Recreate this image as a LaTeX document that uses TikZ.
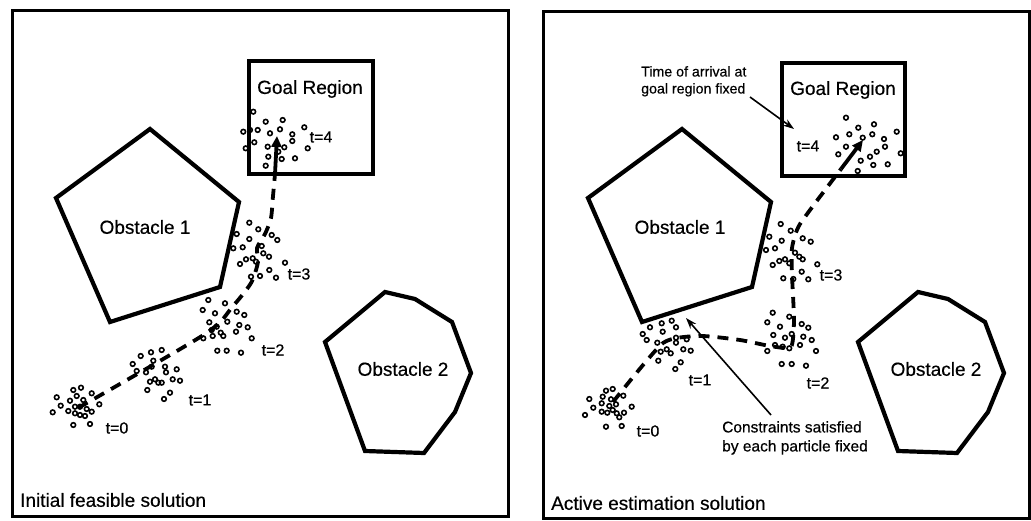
\documentclass[tikz,border=0pt]{standalone}
\usepackage{fontspec}
\setmainfont{Liberation Sans}[FakeBold=0.45]
\usetikzlibrary{arrows.meta}
\newcommand\particles[1]{\foreach \p in {#1} \draw[particle] \p circle[radius=2.3pt];}
\begin{document}
\begin{tikzpicture}[x=1pt,y=-1pt,
  frame/.style={line width=3pt},
  obstacle/.style={line width=4.2pt, line join=miter},
  route/.style={line width=3.8pt, dash pattern=on 11pt off 8pt},
  routetip/.style={line width=3.8pt, -{Triangle[length=11pt,width=10pt]}},
  particle/.style={line width=1.6pt},
  pointer/.style={line width=1.6pt, -{Stealth[length=11pt,width=7.5pt]}},
  bigtext/.style={font=\fontsize{19}{22}\selectfont, inner sep=0pt},
  tlabel/.style={font=\fontsize{16}{18}\selectfont, inner sep=0pt},
  note/.style={font=\fontsize{15.5}{19}\selectfont, align=left, inner sep=0pt},
  smallnote/.style={font=\fontsize{14.2}{17}\selectfont, align=left, inner sep=0pt},
]
\useasboundingbox (0,0) rectangle (1031,521);

% ---------------- left panel: initial feasible solution ----------------
\draw[frame] (12,11) rectangle (508,516);
\draw[obstacle] (249,61) rectangle (373,174);
\node[bigtext] (goalL) at (310,89) {Goal Region};
\draw[obstacle] (150,129) -- (239,202) -- (220,287) -- (110,322) -- (56,198) -- cycle;
\node[bigtext] (obsAL) at (145,227) {Obstacle 1};
\draw[obstacle] (325,342) -- (385,292) -- (415,299) -- (452,322) -- (471,373)
  -- (455,412) -- (424,453) -- (365,451) -- cycle;
\node[bigtext] (obsBL) at (403,369) {Obstacle 2};
\node[bigtext, anchor=west] (capL) at (20,500) {Initial feasible solution};

% particle clouds
\particles{(56.7,397.3),(73.3,390),(81,387.7),(91.7,393.3),(60.7,405.7),(70,400.7),(76.7,396),(83.3,400),(99.3,404.3),(52.7,412.3),(68.3,411),(75,406.7),(80,406.7),(86.7,409),(91.7,411.7),(75,413.3),(80,415),(85,416),(73.3,425),(90,424)}
\particles{(140.7,356),(151,352.3),(161.7,350),(132.7,364),(136.7,371),(153.3,360.7),(151.7,366.7),(146,372.3),(165,366.7),(166,372.3),(176.7,369.3),(150,381.7),(155,379.3),(158.3,382.7),(161.7,382.7),(172.7,379.3),(180,380.7),(147.3,390),(170,392.7),(164,399)}
\particles{(208.3,300),(225,303.3),(202.7,310),(215,313.3),(236.7,311.7),(244.3,315),(209.3,322.3),(216.7,326.7),(227.3,321.7),(239.3,325),(247.7,327.3),(211.7,330),(220.7,332.7),(236,331.7),(203.3,338.3),(212.7,336),(223.3,336),(251.7,338.3),(217.3,350.7),(226.7,350.7),(241,352.7)}
\particles{(249.3,222.7),(258.3,229.3),(236.7,234),(249.3,239),(271.7,235),(277.3,240),(233.3,248.3),(242.7,247.3),(261.7,246),(263.3,253.3),(269,256.7),(246,259.3),(252.7,258.3),(240,264),(256,261.7),(285,262.7),(269.3,270),(251,276.7),(260,276),(276,277.7)}
\particles{(253.3,111.7),(265.7,121.7),(282.7,120),(243.3,131.7),(250,130),(257.7,130),(270,133.3),(280,129.3),(304.3,127.3),(292.3,134.3),(292.3,141),(254.3,142.3),(245.7,148.3),(267.7,146.7),(284.3,147.3),(278.3,151.7),(307.7,148.3),(268.3,156.7),(281.7,159),(295,158.3),(265.7,165.7)}

% dashed route
\coordinate (r0L) at (78,408);
\coordinate (r4L) at (275,174);
\coordinate (tipL) at (277,136);
\draw[route] plot[smooth, tension=0.45] coordinates {(r0L) (205,334) (233,306) (251,283) (258,262) (257,248) (265,234) (271,218) (273,196) (r4L)};
\draw[routetip] (r4L) -- (tipL);

\node[tlabel] (t0L) at (117,428) {t=0};
\node[tlabel] (t1L) at (200,400) {t=1};
\node[tlabel] (t2L) at (273,350) {t=2};
\node[tlabel] (t3L) at (299,274) {t=3};
\node[tlabel] (t4L) at (321,137) {t=4};

% ---------------- right panel: active estimation solution ----------------
\draw[frame] (543,12) rectangle (1029,518);
\draw[obstacle] (782,63) rectangle (905,176);
\node[bigtext] (goalR) at (843,90) {Goal Region};
\draw[obstacle] (682,129) -- (771,202) -- (752,287) -- (642,322) -- (588,198) -- cycle;
\node[bigtext] (obsAR) at (680,227) {Obstacle 1};
\draw[obstacle] (858,342) -- (918,292) -- (948,299) -- (985,322) -- (1004,373)
  -- (988,412) -- (957,453) -- (898,451) -- cycle;
\node[bigtext] (obsBR) at (936,369) {Obstacle 2};
\node[bigtext, anchor=west] (capR) at (551,503) {Active estimation solution};

\particles{(606,390.7),(612.7,389),(589.3,399),(602.7,396.7),(611,399.3),(623.3,395.7),(593.3,407.7),(601.7,403.3),(609.3,406),(616,404.3),(631.7,406.7),(585,415),(601.7,411.7),(607.3,412.7),(612.7,410),(616.7,413.3),(624,412.7),(619.3,417.3),(606,426.7),(621.7,426)}
\particles{(650,327.3),(661.7,323.3),(671.7,320.7),(662.7,331.7),(676,327.3),(642.7,334),(646.7,340),(657.3,342.7),(676,337.7),(686.7,339.3),(660.7,351.7),(666.7,349.3),(670.7,353.3),(676,342.7),(683.3,349.3),(690.7,350.7),(658.3,360.7),(680.7,362.3),(675.3,369)}
\particles{(772.7,312.7),(789.3,316.7),(767.3,322.3),(780,326.7),(801.7,324),(808.3,327.7),(773.3,335),(785,337.7),(791.7,334),(803.3,336.7),(811.7,340),(775,345),(782.7,346.7),(789.3,348.3),(800,345),(767.3,351),(816,351),(781.7,364),(791.7,364),(806,365.7)}
\particles{(780.7,224),(790.7,230.7),(769.3,236.7),(781.7,240.7),(802.7,238.3),(810.7,241.7),(766,250),(775,248.3),(795,252.7),(799.3,256.7),(802.7,259.3),(779.3,261),(785,259.3),(772.7,265),(789.3,263.3),(817.3,264.3),(801.7,271.7),(783.3,278.3),(793.3,279),(808.3,279.3)}
\particles{(846,117.7),(858.3,127.7),(874,124.3),(836,137.3),(849.3,134.3),(862.7,137.7),(872.3,134.3),(884,139),(896.7,131.7),(885,146.7),(846,146.7),(876.7,151.7),(870,156.7),(838.3,154.3),(900.7,153.3),(860.7,160.7),(873.3,165),(887.7,164.3),(857.7,171)}

\coordinate (r0R) at (613,402);
\coordinate (r4R) at (841,169);
\coordinate (tipR) at (863,140);
\draw[route] plot[smooth, tension=0.35] coordinates {(r0R) (663,343) (700,336) (740,340) (770,346) (791,347) (794,320) (792,275) (792,248) (800,224) (r4R)};
\draw[routetip] (r4R) -- (tipR);

\node[tlabel] (t0R) at (648,431) {t=0};
\node[tlabel] (t1R) at (700,380) {t=1};
\node[tlabel] (t2R) at (818,383) {t=2};
\node[tlabel] (t3R) at (831,275) {t=3};
\node[tlabel] (t4R) at (808,146) {t=4};

% annotations
\node[smallnote, anchor=north west] (timeNote) at (641,66) {Time of arrival at\\goal region fixed};
\coordinate (timeFrom) at (750,97);
\coordinate (timeTo) at (794,129);
\draw[pointer] (timeFrom) -- (timeTo);

\node[note, anchor=north west] (consNote) at (722,421) {Constraints satisfied\\by each particle fixed};
\coordinate (consFrom) at (771,415);
\coordinate (consTo) at (686,318);
\draw[pointer] (consFrom) -- (consTo);
\end{tikzpicture}
\end{document}
